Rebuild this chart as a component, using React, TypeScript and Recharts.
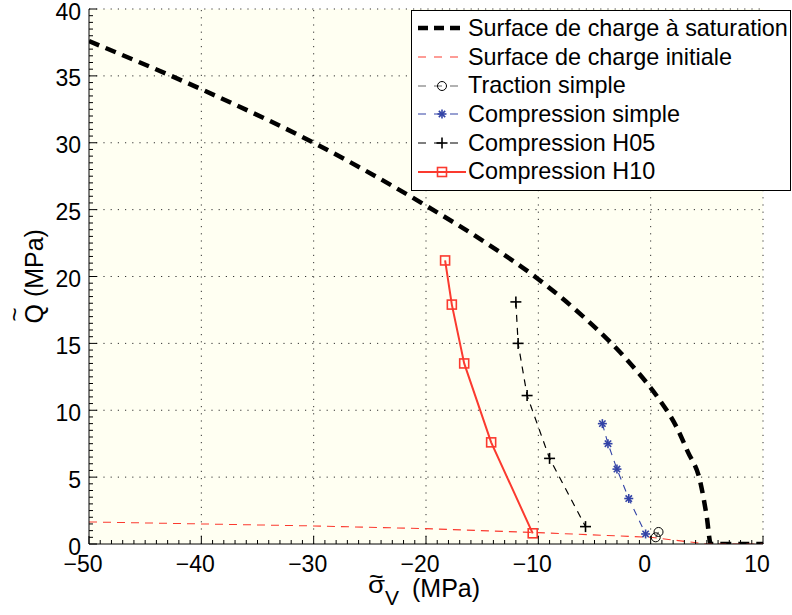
import React from 'react';
import { ComposedChart, Line, XAxis, YAxis, CartesianGrid, ReferenceLine, Legend } from 'recharts';

// ---------------------------------------------------------------------------
// Data
// ---------------------------------------------------------------------------

const saturationS = [-50, -40, -30, -20, -15, -10, -6, -3.6, -1.4, 0.6, 2.3, 3.3, 4.4, 5.0, 5.35, 10];
const saturationQ = [37.6, 34.0, 30.0, 25.3, 22.7, 19.8, 17.0, 15.1, 13.1, 11.0, 8.75, 6.9, 4.7, 2.0, 0, 0];

const initialS = [-50, -30, -20, -10, 0, 5.0, 10];
const initialQ = [1.65, 1.35, 1.15, 0.85, 0.5, 0, 0];

const tractionS = [0.45, 0.7];
const tractionQ = [0.5, 0.9];

const compSimpleS = [-4.3, -3.8, -3.0, -1.95, -0.45];
const compSimpleQ = [9.0, 7.5, 5.6, 3.4, 0.75];

const compH05S = [-12.0, -11.8, -11.0, -9.0, -5.8];
const compH05Q = [18.1, 15.0, 11.1, 6.4, 1.3];

const compH10S = [-18.3, -17.7, -16.6, -14.2, -10.5];
const compH10Q = [21.2, 17.9, 13.5, 7.6, 0.8];

const xMajorTicks = [-50, -40, -30, -20, -10, 0, 10];
const yMajorTicks = [0, 5, 10, 15, 20, 25, 30, 35, 40];

const toPoints = (s: number[], q: number[]) => s.map((v, i) => ({ s: v, q: q[i] }));

// minor ticks: every 1 on x, every 0.5 on y
const xAllTicks: number[] = [];
for (let v = -50; v <= 10; v += 1) xAllTicks.push(v);
const yAllTicks: number[] = [];
for (let v = 0; v <= 40; v += 0.5) yAllTicks.push(v);

// ---------------------------------------------------------------------------
// Styles
// ---------------------------------------------------------------------------

const FONT = '"Liberation Sans", Arial, Helvetica, sans-serif';
const RED = '#fb3a2f';
const BLUE = '#3343a6';

type MarkerKind = 'none' | 'circle' | 'star' | 'plus' | 'square';

function Marker({ kind, cx, cy }: { kind: MarkerKind; cx: number; cy: number }) {
  if (kind === 'circle') {
    return <circle cx={cx} cy={cy} r={4.5} fill="none" stroke="#000" strokeWidth={1} />;
  }
  if (kind === 'star') {
    const r = 4.5;
    const d = r * 0.707;
    return (
      <g stroke={BLUE} strokeWidth={1.6}>
        <line x1={cx - r} y1={cy} x2={cx + r} y2={cy} />
        <line x1={cx} y1={cy - r} x2={cx} y2={cy + r} />
        <line x1={cx - d} y1={cy - d} x2={cx + d} y2={cy + d} />
        <line x1={cx - d} y1={cy + d} x2={cx + d} y2={cy - d} />
      </g>
    );
  }
  if (kind === 'plus') {
    const r = 5.5;
    return (
      <g stroke="#000" strokeWidth={1.6}>
        <line x1={cx - r} y1={cy} x2={cx + r} y2={cy} />
        <line x1={cx} y1={cy - r} x2={cx} y2={cy + r} />
      </g>
    );
  }
  if (kind === 'square') {
    return <rect x={cx - 4.5} y={cy - 4.5} width={9} height={9} fill="none" stroke={RED} strokeWidth={1.6} />;
  }
  return null;
}

const SERIES = [
  { key: 'sat', label: 'Surface de charge à saturation', data: toPoints(saturationS, saturationQ), stroke: '#000', width: 4.5, dash: '11 7', marker: 'none' as MarkerKind, curve: 'monotone' },
  { key: 'init', label: 'Surface de charge initiale', data: toPoints(initialS, initialQ), stroke: RED, width: 1.1, dash: '8 6', marker: 'none' as MarkerKind, curve: 'linear' },
  { key: 'trac', label: 'Traction simple', data: toPoints(tractionS, tractionQ), stroke: '#666', width: 1.1, dash: '7 6', marker: 'circle' as MarkerKind, curve: 'linear' },
  { key: 'cs', label: 'Compression simple', data: toPoints(compSimpleS, compSimpleQ), stroke: BLUE, width: 1.1, dash: '7 6', marker: 'star' as MarkerKind, curve: 'linear' },
  { key: 'h05', label: 'Compression H05', data: toPoints(compH05S, compH05Q), stroke: '#000', width: 1.2, dash: '7 6', marker: 'plus' as MarkerKind, curve: 'linear' },
  { key: 'h10', label: 'Compression H10', data: toPoints(compH10S, compH10Q), stroke: RED, width: 2, dash: undefined, marker: 'square' as MarkerKind, curve: 'linear' },
];

// ---------------------------------------------------------------------------
// Axis pieces
// ---------------------------------------------------------------------------

function XTick({ x, y, payload }: any) {
  const v = payload.value;
  const major = xMajorTicks.includes(v);
  const len = major ? 8 : 4;
  return (
    <g>
      <line x1={x} y1={y} x2={x} y2={y - len} stroke="#000" strokeWidth={1} />
      {major && (
        <text x={x - 6} y={y + 28} textAnchor="middle" fontSize={23} fontFamily={FONT} fill="#000">
          {v < 0 ? `\u2212${Math.abs(v)}` : `${v}`}
        </text>
      )}
    </g>
  );
}

function YTick({ x, y, payload }: any) {
  const v = payload.value;
  const major = yMajorTicks.includes(v);
  const len = major ? 8 : 4;
  return (
    <g>
      <line x1={x} y1={y} x2={x + len} y2={y} stroke="#000" strokeWidth={1} />
      {major && (
        <text x={x - 8} y={y + 10.5} textAnchor="end" fontSize={23} fontFamily={FONT} fill="#000">
          {v}
        </text>
      )}
    </g>
  );
}

function XLabel({ viewBox }: any) {
  const cx = viewBox.x + viewBox.width / 2;
  return (
    <g fontFamily={FONT} fill="#000">
      <text x={cx - 58} y={593} fontSize={23} transform={`translate(${cx - 58}, 593) scale(1.2, 1) translate(${-(cx - 58)}, -593)`}>σ</text>
      <text x={cx - 57} y={585} fontSize={25}>~</text>
      <text x={cx - 41} y={605} fontSize={21}>V</text>
      <text x={cx - 14} y={597} fontSize={25}>(MPa)</text>
    </g>
  );
}

function YLabel({ viewBox }: any) {
  const cy = viewBox.y + viewBox.height / 2;
  return (
    <g fontFamily={FONT} fill="#000" transform={`translate(43, ${cy + 47}) rotate(-90)`}>
      <text x={0} y={0} fontSize={25}>Q (MPa)</text>
      <text x={2} y={-20} fontSize={24}>~</text>
    </g>
  );
}

function LegendBox() {
  return (
    <div
      style={{
        border: '1px solid #000',
        background: '#fff',
        width: 378,
        padding: '3px 0 4px 0',
        fontFamily: FONT,
        fontSize: 23.4,
        lineHeight: '28.7px',
        color: '#000',
      }}
    >
      {SERIES.map((s) => (
        <div key={s.key} style={{ display: 'flex', alignItems: 'center', height: 28.7, whiteSpace: 'nowrap' }}>
          <svg width={56} height={28} style={{ flex: 'none' }}>
            <line x1={6} y1={14} x2={54} y2={14} stroke={s.stroke} strokeWidth={s.width} strokeDasharray={s.key === 'sat' ? '10 6' : s.dash ? '8 8' : undefined} />
            <Marker kind={s.marker} cx={30} cy={14} />
          </svg>
          <span>{s.label}</span>
        </div>
      ))}
    </div>
  );
}

// ---------------------------------------------------------------------------
// Chart
// ---------------------------------------------------------------------------

export default function App() {
  return (
    <div style={{ position: 'absolute', left: 0, top: 0, width: 792, height: 615, background: '#fff' }}>
      <ComposedChart width={792} height={615} margin={{ top: 9, right: 29, left: 29, bottom: 31 }}>
        <CartesianGrid horizontal={false} vertical={false} fill="#fffff2" />
        {xMajorTicks.slice(1).map((v) => (
          <ReferenceLine key={`gx${v}`} x={v} stroke="#333" strokeWidth={1} strokeDasharray="1.2 6" />
        ))}
        {yMajorTicks.slice(1).map((v) => (
          <ReferenceLine key={`gy${v}`} y={v} stroke="#333" strokeWidth={1} strokeDasharray="1.2 6" />
        ))}
        <XAxis
          type="number"
          dataKey="s"
          domain={[-50, 10]}
          ticks={xAllTicks}
          interval={0}
          tickSize={0}
          tickMargin={0}
          tickLine={false}
          axisLine={{ stroke: '#000', strokeWidth: 1 }}
          tick={<XTick />}
          height={40}
          allowDataOverflow
          label={<XLabel />}
        />
        <YAxis
          type="number"
          dataKey="q"
          domain={[0, 40]}
          ticks={yAllTicks}
          interval={0}
          tickSize={0}
          tickMargin={0}
          tickLine={false}
          axisLine={{ stroke: '#000', strokeWidth: 1 }}
          tick={<YTick />}
          width={60}
          allowDataOverflow
          label={<YLabel />}
        />
        {SERIES.map((s) => (
          <Line
            key={s.key}
            data={s.data}
            dataKey="q"
            type={s.curve as any}
            stroke={s.stroke}
            strokeWidth={s.width}
            strokeDasharray={s.dash}
            isAnimationActive={false}
            legendType="none"
            dot={
              s.marker === 'none'
                ? false
                : (p: any) => (
                    <g key={`${s.key}-${p.index}`}>
                      <Marker kind={s.marker} cx={p.cx} cy={p.cy} />
                    </g>
                  )
            }
            activeDot={false}
          />
        ))}
        <Legend
          layout="vertical"
          align="center"
          verticalAlign="middle"
          content={() => <LegendBox />}
          wrapperStyle={{ position: 'absolute', top: 10, left: 411, width: 380, height: 'auto' }}
        />
      </ComposedChart>
    </div>
  );
}
